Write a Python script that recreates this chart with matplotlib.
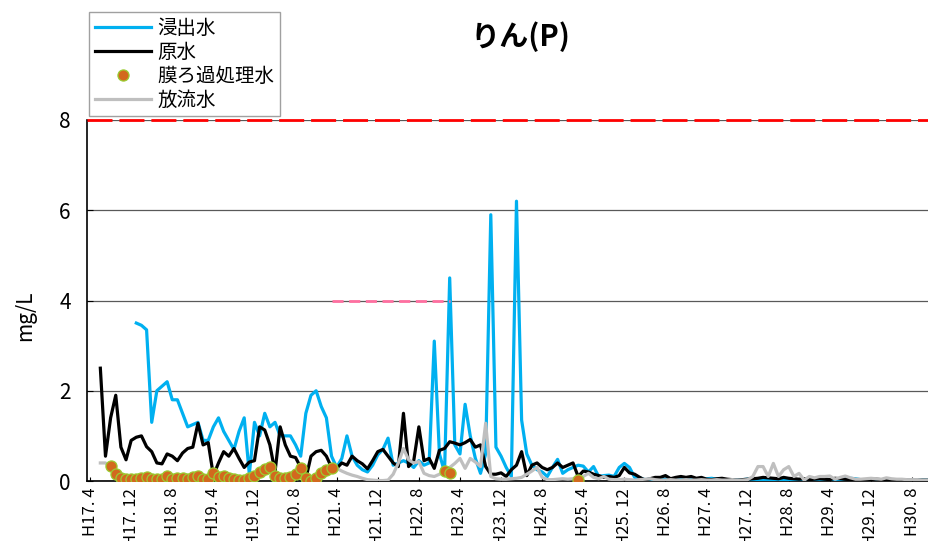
import matplotlib
matplotlib.use("Agg")
import matplotlib.pyplot as plt
import numpy as np

plt.rcParams['font.family'] = ['Noto Sans CJK JP', 'DejaVu Sans']

# months from H17.4 (index 0) onwards
N_MONTHS = 164
months = []
y, m = 17, 4
for _ in range(N_MONTHS):
    months.append((y, m))
    m += 1
    if m > 12:
        y, m = y + 1, 1

# 浸出水 (leachate), starts at H18.1
leach_start = 9
leach = [3.5, 3.45, 3.35, 1.3, 2.0, 2.1, 2.2, 1.8, 1.8, 1.5,
         1.2, 1.25, 1.3, 0.9, 0.9, 1.2, 1.4, 1.1, 0.9, 0.7,
         1.1, 1.4, 0.15, 1.3, 1.0, 1.5, 1.2, 1.3, 1.0, 1.0,
         1.0, 0.8, 0.55, 1.5, 1.9, 2.0, 1.65, 1.4, 0.55, 0.3,
         0.5, 1.0, 0.55, 0.35, 0.25, 0.2, 0.35, 0.58, 0.7, 0.95,
         0.35, 0.4, 0.45, 0.4, 0.3, 0.45, 0.35, 0.4, 3.1, 0.6,
         0.2, 4.5, 0.8, 0.6, 1.7, 1.0, 0.5, 0.17, 0.6, 5.9,
         0.75, 0.55, 0.3, 0.1, 6.2, 1.35, 0.6, 0.35, 0.25, 0.2,
         0.1, 0.3, 0.48, 0.17, 0.25, 0.3, 0.35, 0.33, 0.2, 0.32,
         0.1, 0.12, 0.13, 0.1, 0.3, 0.39, 0.3, 0.08, 0.07, 0.03,
         0.04, 0.03, 0.05, 0.04, 0.03, 0.02, 0.03, 0.04, 0.03, 0.02,
         0.03, 0.05, 0.06, 0.04, 0.03, 0.02, 0.03, 0.02, 0.03, 0.04,
         0.03, 0.02, 0.02, 0.03, 0.02, 0.03, 0.02, 0.02, 0.03, 0.02,
         0.02, 0.03, 0.02, 0.03, 0.04, 0.03, 0.02, 0.03, 0.05, 0.06,
         0.05, 0.03, 0.02, 0.02, 0.03, 0.02, 0.03, 0.02, 0.02, 0.02,
         0.02, 0.02, 0.02, 0.02, 0.02]

# 原水 (raw water), starts at H17.6
raw_start = 2
raw = [2.5, 0.55, 1.4, 1.9, 0.75, 0.47, 0.9, 0.97, 1.0, 0.76,
       0.65, 0.4, 0.38, 0.6, 0.55, 0.45, 0.62, 0.72, 0.75, 1.28,
       0.8, 0.85, 0.12, 0.4, 0.65, 0.55, 0.72, 0.5, 0.3, 0.42,
       0.45, 1.2, 1.13, 0.8, 0.2, 1.2, 0.8, 0.55, 0.52, 0.3,
       0.05, 0.55, 0.65, 0.68, 0.55, 0.3, 0.28, 0.4, 0.35, 0.55,
       0.45, 0.38, 0.27, 0.45, 0.65, 0.7, 0.55, 0.4, 0.32, 1.5,
       0.32, 0.45, 1.2, 0.45, 0.5, 0.28, 0.68, 0.72, 0.87, 0.84,
       0.8, 0.85, 0.92, 0.75, 0.8, 0.32, 0.15, 0.15, 0.18, 0.1,
       0.25, 0.35, 0.65, 0.12, 0.35, 0.4, 0.3, 0.25, 0.3, 0.4,
       0.3, 0.35, 0.4, 0.1, 0.22, 0.2, 0.15, 0.12, 0.08, 0.1,
       0.08, 0.12, 0.3, 0.18, 0.15, 0.08, 0.02, 0.05, 0.08, 0.08,
       0.12, 0.05, 0.08, 0.1, 0.08, 0.1, 0.06, 0.08, 0.04, 0.03,
       0.05, 0.06, 0.04, 0.03, 0.02, 0.03, 0.04, 0.05, 0.06, 0.08,
       0.07, 0.06, 0.05, 0.08, 0.06, 0.05, 0.04, 0.05, 0.03, 0.04,
       0.05, 0.04, 0.03, 0.06, 0.05, 0.04, 0.03, 0.02, 0.03, 0.02,
       0.03, 0.04, 0.03, 0.02, 0.02, 0.02, 0.03, 0.02, 0.02, 0.02,
       0.02, 0.02]

# 膜ろ過処理水 (membrane-filtered), month index -> value
membrane_idx = list(range(4, 48)) + [69, 70, 95]
membrane = [0.33, 0.16, 0.06, 0.05, 0.05, 0.04, 0.06, 0.08, 0.05, 0.05,
            0.05, 0.1, 0.05, 0.06, 0.07, 0.05, 0.08, 0.1, 0.05, 0.04,
            0.17, 0.08, 0.1, 0.06, 0.05, 0.03, 0.03, 0.06, 0.1, 0.2,
            0.26, 0.3, 0.11, 0.07, 0.07, 0.08, 0.15, 0.28, 0.06, 0.0,
            0.06, 0.17, 0.24, 0.28,
            0.22, 0.18, 0.03]

# 放流水 (discharge)
discharge_a_start = 2
discharge_a = [0.4, 0.4, 0.3]
discharge_b_start = 47
discharge_b = [0.32, 0.28, 0.22, 0.17, 0.13, 0.1, 0.06, 0.03, 0.02, 0.01,
               0.01, 0.02, 0.15, 0.4, 0.72, 0.47, 0.4, 0.43, 0.17, 0.12,
               0.1, 0.15, 0.2, 0.3, 0.39, 0.5, 0.28, 0.5, 0.42, 0.32,
               1.28, 0.1, 0.05, 0.04, 0.04, 0.05, 0.06, 0.08, 0.15, 0.22,
               0.3, 0.08, 0.03, 0.03, 0.04, 0.05, 0.04, 0.05, 0.08, 0.1,
               0.17, 0.08, 0.05, 0.1, 0.04, 0.03, 0.03, 0.04, 0.03, 0.02,
               0.03, 0.04, 0.05, 0.03, 0.02, 0.02, 0.03, 0.02, 0.02, 0.03,
               0.02, 0.02, 0.03, 0.02, 0.02, 0.03, 0.02, 0.02, 0.03, 0.02,
               0.02, 0.03, 0.1, 0.32, 0.32, 0.1, 0.39, 0.1, 0.25, 0.32,
               0.1, 0.17, 0.02, 0.1, 0.07, 0.1, 0.1, 0.11, 0.04, 0.08,
               0.11, 0.07, 0.04, 0.04, 0.05, 0.06, 0.05, 0.04, 0.07, 0.05,
               0.04, 0.04, 0.03, 0.03, 0.03, 0.02, 0.02]

# standards
limit_all = 8.0
limit_period = 4.0
limit_period_range = ((21, 3), (23, 2))

tick_step = 8


def series_x(start, vals):
    return np.arange(start, start + len(vals))


fig = plt.figure(figsize=(9.29, 5.41), dpi=100)
ax = fig.add_axes([87.5 / 929, 1 - 481 / 541, 1 - 87.5 / 929, 361 / 541])

ax.set_ylim(0, 8)
ax.set_xlim(-0.5, -0.5 + 841.5 / 5.1375)
ax.set_yticks([0, 2, 4, 6, 8])
ax.yaxis.grid(True, color='#595959', lw=0.9)
ax.set_axisbelow(True)

l1, = ax.plot(series_x(leach_start, leach), leach, color='#00B0F0', lw=2.3, label='浸出水', zorder=3)
l2, = ax.plot(series_x(raw_start, raw), raw, color='black', lw=2.3, label='原水', zorder=4)
ax.plot(series_x(discharge_a_start, discharge_a), discharge_a, color='#BFBFBF', lw=2.3, zorder=5)
l4, = ax.plot(series_x(discharge_b_start, discharge_b), discharge_b, color='#BFBFBF', lw=2.3,
              label='放流水', zorder=5)
l3, = ax.plot(membrane_idx, membrane, ls='none', marker='o', ms=8, mfc='#D2691E',
              mec='#9ACD32', mew=0.9, label='膜ろ過処理水', zorder=6)

ax.axhline(limit_all, color='#FF0000', lw=2.0, dashes=(9, 2.5), zorder=7, clip_on=False)
p0 = months.index(limit_period_range[0])
p1 = months.index(limit_period_range[1])
ax.plot([p0, p1], [limit_period, limit_period], color='#FF6FA0', lw=2.0, dashes=(4, 2), zorder=7)

tick_pos = list(range(0, N_MONTHS, tick_step))
ax.set_xticks(tick_pos)
ax.set_xticklabels([f"H{months[i][0]}. {months[i][1]}" for i in tick_pos], rotation=90, fontsize=12)
ax.tick_params(axis='x', direction='in', length=3, pad=5)
ax.tick_params(axis='y', direction='in', length=4, labelsize=15, pad=12)

for s in ['top', 'right']:
    ax.spines[s].set_visible(False)
ax.spines['left'].set_linewidth(1.2)
ax.spines['bottom'].set_linewidth(1.2)

fig.text(25 / 929, 1 - 316 / 541, 'mg/L', rotation=90, fontsize=15, ha='center', va='center')
fig.text(520 / 929, 1 - 37 / 541, 'りん(P)', fontsize=21, fontweight='bold', ha='center', va='center')

leg = fig.legend(handles=[l1, l2, l3, l4], loc='upper left',
                 bbox_to_anchor=(89 / 929, 1 - 12 / 541), fontsize=14,
                 frameon=True, fancybox=False, edgecolor='#A0A0A0', framealpha=1,
                 borderaxespad=0, handlelength=2.9, handletextpad=0.3,
                 labelspacing=0.15, borderpad=0.3)
leg.get_frame().set_linewidth(1.0)

fig.savefig('out.png', dpi=100)
